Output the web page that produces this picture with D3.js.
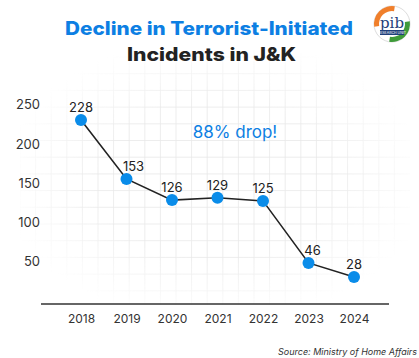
<!DOCTYPE html>
<html><head><meta charset="utf-8">
<script src="https://cdn.jsdelivr.net/npm/d3@7"></script>
<style>html,body{margin:0;padding:0;background:#fff;}svg{display:block;}</style>
</head><body>
<svg id="c" width="419" height="358"></svg>
<script>
const years = ["2018","2019","2020","2021","2022","2023","2024"];
const incidents = [228,153,126,129,125,46,28];
const yTicks = [50,100,150,200,250];
const titleLine1 = "Decline in Terrorist-Initiated";
const titleLine2 = "Incidents in J&K";
const annotation = "88% drop!";
const source = "Source: Ministry of Home Affairs";

const svg = d3.select("#c");
const blue = "#0d7fe3", dot = "#0a8ce9", dark = "#222";

// faint graph-paper grid with radial fade
const defs = svg.append("defs");
const rg = defs.append("radialGradient").attr("id","fade").attr("cx","0.5").attr("cy","0.5").attr("r","0.55");
rg.append("stop").attr("offset","0.55").attr("stop-color","#fff").attr("stop-opacity",1);
rg.append("stop").attr("offset","1").attr("stop-color","#fff").attr("stop-opacity",0);
defs.append("mask").attr("id","m").append("rect").attr("x",20).attr("y",50).attr("width",390).attr("height",260).attr("fill","url(#fade)");
const grid = svg.append("g").attr("mask","url(#m)").attr("stroke","#e9e9e9").attr("stroke-width",0.8);
d3.range(20, 410, 15.6).forEach(x => grid.append("line").attr("x1",x).attr("x2",x).attr("y1",50).attr("y2",305));
d3.range(57, 305, 16.7).forEach(y => grid.append("line").attr("x1",20).attr("x2",410).attr("y1",y).attr("y2",y));

const x = d3.scalePoint().domain(years).range([81, 354]);
const y = d3.scaleLinear().domain([0, 250]).range([299, 102.8]);

// axis baseline
svg.append("line").attr("x1",41).attr("x2",389).attr("y1",304).attr("y2",304).attr("stroke","#333").attr("stroke-width",1.5);

// y tick labels
const yAxis = d3.axisLeft(y).tickValues(yTicks).tickSize(0).tickPadding(0);
const ya = svg.append("g").attr("transform","translate(40,2)").call(yAxis);
ya.select(".domain").remove();
ya.selectAll("text").attr("font-family","Inter, 'Noto Sans', sans-serif").attr("font-size",13).attr("fill","#333");

// x tick labels
const xAxis = d3.axisBottom(x).tickSize(0).tickPadding(0);
const xa = svg.append("g").attr("transform","translate(0,314)").call(xAxis);
xa.select(".domain").remove();
xa.selectAll("text").attr("font-family","Inter, 'Noto Sans', sans-serif").attr("font-size",12).attr("fill","#333");

// line
const line = d3.line().x((d,i)=>x(years[i])).y(d=>y(d));
svg.append("path").datum(incidents).attr("d",line).attr("fill","none").attr("stroke",dark).attr("stroke-width",1.6);

// dots
svg.selectAll("circle.pt").data(incidents).join("circle").attr("class","pt")
  .attr("cx",(d,i)=>x(years[i])).attr("cy",d=>y(d)).attr("r",6).attr("fill",dot);

// value labels
const labelShift = [0,7,0,0,0,4,0];
svg.selectAll("text.val").data(incidents).join("text").attr("class","val")
  .attr("x",(d,i)=>x(years[i]) + labelShift[i]).attr("y",d=>y(d)-8)
  .attr("text-anchor","middle").attr("font-family","Inter, 'Noto Sans', sans-serif").attr("font-size",13).attr("fill",dark)
  .text(d=>d);

// annotation
svg.append("text").attr("x",235).attr("y",138).attr("text-anchor","middle")
  .attr("font-family","Inter, 'Noto Sans', sans-serif").attr("font-size",17).attr("fill",blue).text(annotation);

// titles
svg.append("text").attr("x",65).attr("y",35)
  .attr("font-family","Inter, sans-serif").attr("font-weight",800).attr("font-size",18.5)
  .attr("textLength",288).attr("lengthAdjust","spacingAndGlyphs").attr("fill",blue).text(titleLine1);
svg.append("text").attr("x",127).attr("y",61)
  .attr("font-family","Inter, sans-serif").attr("font-weight",800).attr("font-size",18.5)
  .attr("textLength",169).attr("lengthAdjust","spacingAndGlyphs").attr("fill",dark).text(titleLine2);

// source
svg.append("text").attr("x",417).attr("y",355).attr("text-anchor","end")
  .attr("font-family","Inter, 'Noto Sans', sans-serif").attr("font-style","italic").attr("font-size",9).attr("fill","#333").text(source);

// logo
const lg = svg.append("g").attr("transform","translate(392,24)");
lg.append("circle").attr("r",18).attr("fill","#fff").attr("stroke","#ddd").attr("stroke-width",1);
const arc = d3.arc().innerRadius(13).outerRadius(18);
lg.append("path").attr("d",arc({startAngle:-Math.PI*0.55,endAngle:Math.PI*0.05})).attr("fill","#f07f2b");
lg.append("path").attr("d",arc({startAngle:Math.PI*0.45,endAngle:Math.PI*1.05})).attr("fill","#3f9b3a");
lg.append("text").attr("x",0).attr("y",4).attr("text-anchor","middle").attr("font-family","DejaVu Serif, serif")
  .attr("font-size",15).attr("fill","#1f3f7a").text("pib");
lg.append("rect").attr("x",-12).attr("y",6).attr("width",24).attr("height",5).attr("fill","#1f3f7a");
lg.append("text").attr("x",0).attr("y",10).attr("text-anchor","middle").attr("font-family","Inter, sans-serif")
  .attr("font-size",3.5).attr("fill","#fff").text("RESEARCH UNIT");
</script>
</body></html>
